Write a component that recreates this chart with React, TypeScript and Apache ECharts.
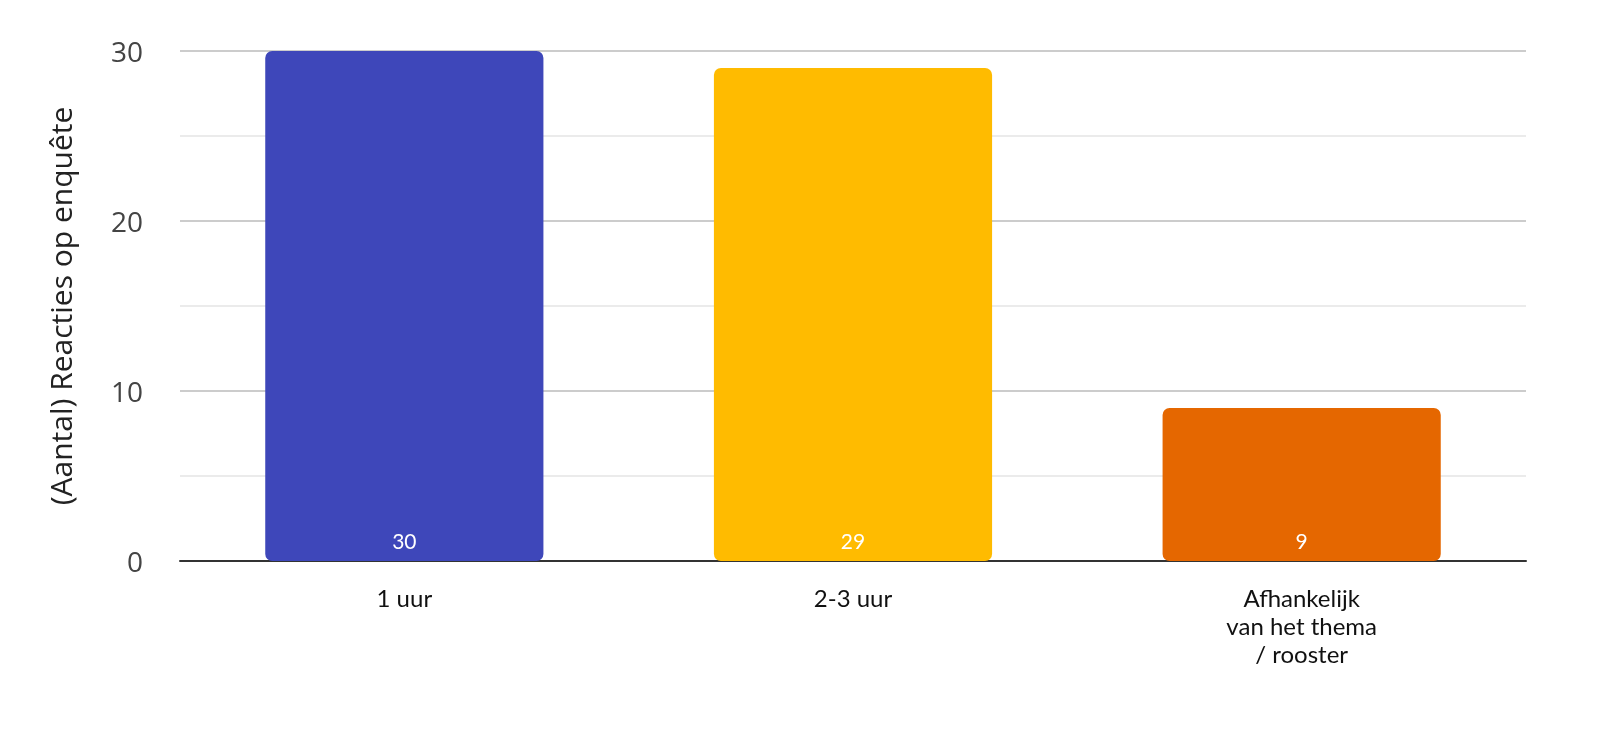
import { useEffect, useRef } from 'react'
import * as echarts from 'echarts'

const categories = ['1 uur', '2-3 uur', 'Afhankelijk\nvan het thema\n/ rooster']
const values = [30, 29, 9]
const barColors = ['#3E47BA', '#FFBB00', '#E56700']
const yTicks = [0, 10, 20, 30]

export default function App() {
  const elRef = useRef<HTMLDivElement | null>(null)

  useEffect(() => {
    if (!elRef.current) return
    const chart = echarts.init(elRef.current, undefined, { renderer: 'svg' })
    chart.setOption({
      animation: false,
      grid: { left: 180, right: 74, top: 51, bottom: 168 },
      xAxis: {
        type: 'category',
        data: categories,
        axisTick: { show: false },
        axisLine: { lineStyle: { color: '#333', width: 2 } },
        axisLabel: {
          color: '#111',
          fontSize: 24,
          fontFamily: 'Lato',
          lineHeight: 28,
          margin: 22,
          interval: 0,
        },
      },
      yAxis: {
        type: 'value',
        min: 0,
        max: 30,
        interval: 5,
        name: '(Aantal) Reacties op enquête',
        nameLocation: 'middle',
        nameGap: 105,
        nameTextStyle: { color: '#222', fontSize: 30, fontFamily: 'Open Sans' },
        axisLine: { show: false },
        axisTick: { show: false },
        axisLabel: {
          color: '#444',
          fontSize: 28,
          fontFamily: 'Open Sans',
          margin: 37,
          formatter: (v: number) => (yTicks.includes(v) ? String(v) : ''),
        },
        splitLine: { lineStyle: { color: ['#cccccc', '#ebebeb'], width: 2 } },
      },
      series: [
        {
          type: 'bar',
          barWidth: '62%',
          data: values.map((v, i) => ({ value: v, itemStyle: { color: barColors[i] } })),
          itemStyle: { borderRadius: 7 },
          label: {
            show: true,
            position: 'insideBottom',
            distance: 10,
            color: '#fff',
            fontSize: 21,
            fontFamily: 'Lato',
          },
        },
      ],
    })
    return () => chart.dispose()
  }, [])

  return <div ref={elRef} style={{ position: 'fixed', left: 0, top: 0, width: 1600, height: 729 }} />
}
